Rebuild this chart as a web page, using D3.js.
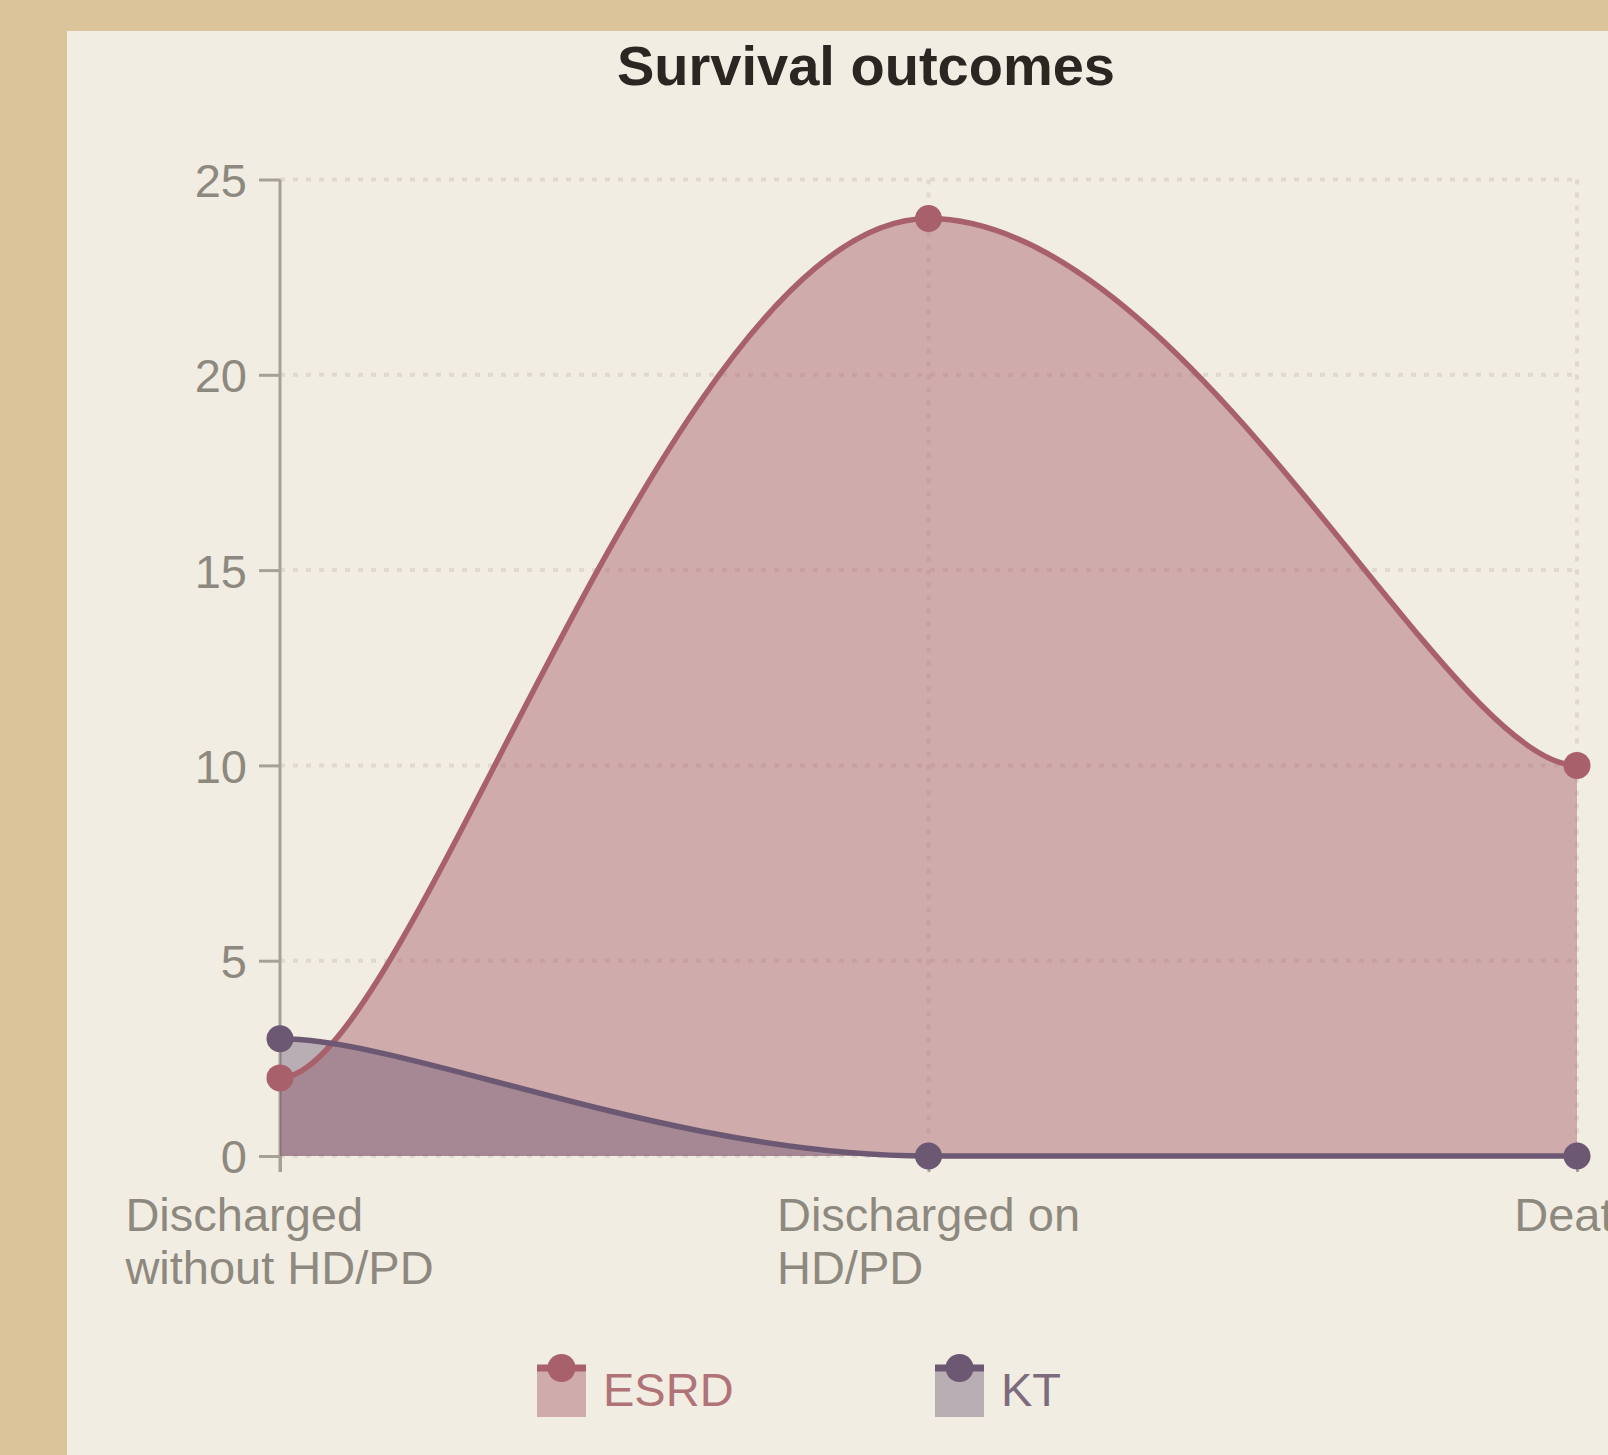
<!DOCTYPE html>
<html>
<head>
<meta charset="utf-8">
<script src="https://cdn.jsdelivr.net/npm/d3@7"></script>
<style>
    body { margin: 0; background: #dbc49a; }
    svg { display: block; }
    text { font-family: "Liberation Sans", Arial, Helvetica, sans-serif; }
</style>
</head>
<body>
<svg id="svg" width="1608" height="1455"></svg>
<script>
const categories = [["Discharged", "without HD/PD"], ["Discharged on", "HD/PD"], ["Death"]];
const yTicks = [0, 5, 10, 15, 20, 25];
const esrdValues = [2, 24, 10];
const ktValues = [3, 0, 0];
const seriesNames = ["ESRD", "KT"];

const width = 1608,
    height = 1455;
const margin = { left: 280, right: 31, top: 179.5, bottom: 299 };

const series = [
    { name: seriesNames[0], values: esrdValues, line: "#a8616b", fill: "rgba(168,97,108,0.47)", text: "#b07378" },
    { name: seriesNames[1], values: ktValues, line: "#6c5872", fill: "rgba(108,88,114,0.42)", text: "#7c6c7e" }
];

const svg = d3.select("#svg");

// panel
svg.append("rect")
    .attr("x", 67).attr("y", 31)
    .attr("width", width - 67).attr("height", height - 31)
    .attr("fill", "#f2ede3");

const x = d3.scalePoint()
    .domain(d3.range(categories.length))
    .range([margin.left, width - margin.right]);

const y = d3.scaleLinear()
    .domain([0, 25])
    .range([height - margin.bottom, margin.top]);

const yTop = y(25), yBottom = y(0);

// grid
const grid = svg.append("g")
    .attr("stroke", "#e0d9cd")
    .attr("stroke-width", 4)
    .attr("stroke-dasharray", "5 8");

grid.selectAll("line.h")
    .data(yTicks)
    .join("line")
    .attr("x1", x(0)).attr("x2", x(2))
    .attr("y1", d => y(d)).attr("y2", d => y(d));

grid.selectAll("line.v")
    .data([1, 2])
    .join("line")
    .attr("x1", d => x(d)).attr("x2", d => x(d))
    .attr("y1", yTop).attr("y2", yBottom);

// smooth curve: flat handles at every point, length 0.2 * (next.x - prev.x)
function curvePath(values, closed) {
    const k = 0.2;
    const pts = values.map((v, i) => [x(i), y(v)]);
    const handle = i => k * ((pts[i + 1] || pts[i])[0] - (pts[i - 1] || pts[i])[0]);
    const p = d3.path();
    p.moveTo(pts[0][0], pts[0][1]);
    for (let i = 1; i < pts.length; i++) {
        p.bezierCurveTo(pts[i - 1][0] + handle(i - 1), pts[i - 1][1], pts[i][0] - handle(i), pts[i][1], pts[i][0], pts[i][1]);
    }
    if (closed) {
        p.lineTo(pts[pts.length - 1][0], y(0));
        p.lineTo(pts[0][0], y(0));
        p.closePath();
    }
    return p.toString();
}

// axes
const yAxis = svg.append("g")
    .attr("transform", `translate(${margin.left},0)`)
    .call(d3.axisLeft(y).tickValues(yTicks).tickSize(21).tickPadding(12));
yAxis.select(".domain").remove();
yAxis.append("line")
    .attr("x1", 0).attr("x2", 0)
    .attr("y1", yTop).attr("y2", yBottom + 16)
    .attr("stroke", "#a6a197").attr("stroke-width", 3);
yAxis.selectAll(".tick line").attr("stroke", "#a6a197").attr("stroke-width", 3);
yAxis.selectAll(".tick text")
    .attr("fill", "#8e897f")
    .attr("font-size", 47)
    .attr("dy", "0.36em");

const xAxis = svg.append("g")
    .attr("transform", `translate(0,${yBottom})`)
    .call(d3.axisBottom(x).tickSize(16).tickFormat(""));
xAxis.select(".domain").remove();
xAxis.selectAll(".tick line").attr("stroke", "#a6a197").attr("stroke-width", 3);

// x labels: block centred on tick, lines left-aligned
const xl = svg.append("g").selectAll("text")
    .data(categories)
    .join("text")
    .attr("fill", "#8e897f")
    .attr("font-size", 47)
    .attr("y", yBottom + 75);
xl.selectAll("tspan")
    .data(d => d)
    .join("tspan")
    .attr("x", 0)
    .attr("dy", (d, i) => i ? 53 : 0)
    .text(d => d);
xl.each(function (d, i) {
    const w = this.getBBox().width;
    d3.select(this).selectAll("tspan").attr("x", x(i) - w / 2);
});

// areas, then lines, then points
series.forEach(s => {
    svg.append("path")
        .attr("d", curvePath(s.values, true))
        .attr("fill", s.fill);
});
series.forEach(s => {
    svg.append("path")
        .attr("d", curvePath(s.values, false))
        .attr("fill", "none")
        .attr("stroke", s.line)
        .attr("stroke-width", 5.5);
});
series.slice().reverse().forEach(s => {
    svg.append("g").selectAll("circle")
        .data(s.values)
        .join("circle")
        .attr("cx", (d, i) => x(i))
        .attr("cy", d => y(d))
        .attr("r", 13.5)
        .attr("fill", s.line);
});

// title
svg.append("text")
    .attr("x", 866).attr("y", 85)
    .attr("text-anchor", "middle")
    .attr("font-size", 56)
    .attr("font-weight", "bold")
    .attr("fill", "#2a2722")
    .text("Survival outcomes");

// legend: area swatch with line and marker on top
const legendX = [537, 935];
const legend = svg.append("g").selectAll("g")
    .data(series)
    .join("g")
    .attr("transform", (d, i) => `translate(${legendX[i]},1368)`);
legend.append("rect")
    .attr("width", 49).attr("height", 49)
    .attr("fill", d => d.fill);
legend.append("line")
    .attr("x1", 0).attr("x2", 49)
    .attr("stroke", d => d.line)
    .attr("stroke-width", 7);
legend.append("circle")
    .attr("cx", 24.5).attr("cy", 0).attr("r", 14)
    .attr("fill", d => d.line);
legend.append("text")
    .attr("x", 66).attr("y", 38)
    .attr("font-size", 47)
    .attr("fill", d => d.text)
    .text(d => d.name);
</script>
</body>
</html>
